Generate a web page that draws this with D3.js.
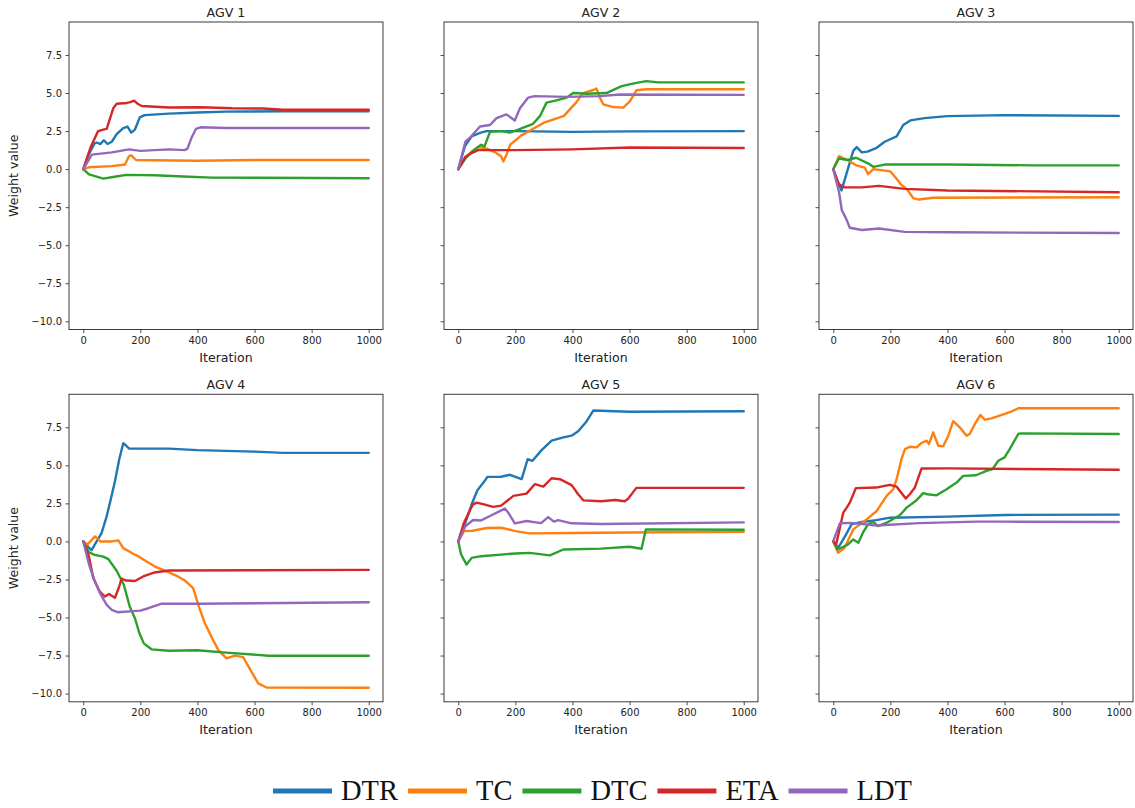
<!DOCTYPE html>
<html><head><meta charset="utf-8">
<script src="https://cdn.jsdelivr.net/npm/d3@7"></script>
<style>body{margin:0;background:#fff}svg{display:block}</style>
</head><body><svg id="c" width="1135" height="808"></svg>
<script>
// ---------- data ----------
const seriesNames = ["DTR","TC","DTC","ETA","LDT"];
const seriesColors = ["#1f77b4","#ff7f0e","#2ca02c","#d62728","#9467bd"];
const panelTitles = ["AGV 1","AGV 2","AGV 3","AGV 4","AGV 5","AGV 6"];
const xTicks = [0,200,400,600,800,1000];
const yTicks = [-10,-7.5,-5,-2.5,0,2.5,5,7.5];

// [iteration, weight]
const agv1_DTR = [[0,0],[20,1.0],[40,1.7],[47,1.75],[60,1.65],[72,1.9],[85,1.65],[100,1.8],[117,2.3],[140,2.7],[155,2.8],[168,2.4],[181,2.6],[198,3.4],[215,3.55],[300,3.65],[400,3.72],[500,3.78],[700,3.8],[1000,3.8]];
const agv1_TC  = [[0,0],[20,0.12],[100,0.2],[146,0.3],[160,0.85],[168,0.9],[185,0.6],[250,0.58],[400,0.55],[600,0.6],[1000,0.6]];
const agv1_DTC = [[0,0],[20,-0.35],[70,-0.62],[110,-0.5],[150,-0.38],[250,-0.4],[350,-0.48],[450,-0.56],[1000,-0.6]];
const agv1_ETA = [[0,0],[25,1.4],[52,2.5],[70,2.6],[82,2.65],[105,4.0],[117,4.3],[152,4.35],[165,4.4],[178,4.5],[190,4.3],[205,4.15],[300,4.05],[410,4.07],[520,4.0],[630,3.98],[700,3.9],[1000,3.9]];
const agv1_LDT = [[0,0],[30,0.95],[100,1.1],[160,1.3],[200,1.2],[300,1.3],[355,1.25],[365,1.35],[380,2.1],[395,2.65],[410,2.75],[500,2.7],[1000,2.7]];

const agv2_DTR = [[0,0],[23,1.5],[47,2.15],[76,2.38],[99,2.5],[200,2.5],[400,2.45],[600,2.48],[1000,2.5]];
const agv2_TC  = [[0,0],[25,0.8],[50,1.1],[70,1.45],[100,1.35],[130,1.1],[150,0.85],[158,0.5],[170,1.0],[182,1.6],[220,2.2],[262,2.65],[300,3.05],[340,3.3],[370,3.5],[414,4.4],[437,5.0],[473,5.2],[484,5.3],[496,4.7],[508,4.26],[543,4.08],[578,4.04],[601,4.45],[624,5.18],[659,5.25],[1000,5.25]];
const agv2_DTC = [[0,0],[25,0.7],[50,1.2],[80,1.6],[92,1.5],[111,2.45],[150,2.5],[180,2.4],[210,2.6],[262,2.98],[286,3.48],[309,4.37],[340,4.5],[380,4.7],[402,5.0],[450,4.95],[519,5.0],[572,5.45],[620,5.65],[659,5.78],[700,5.7],[1000,5.7]];
const agv2_ETA = [[0,0],[25,0.8],[40,1.0],[70,1.25],[200,1.25],[400,1.3],[600,1.42],[1000,1.39]];
const agv2_LDT = [[0,0],[25,1.8],[40,2.05],[76,2.8],[111,2.9],[134,3.35],[169,3.6],[198,3.2],[216,4.0],[245,4.7],[268,4.8],[379,4.75],[496,4.8],[566,4.9],[1000,4.88]];

const agv3_DTR = [[0,0],[15,-0.8],[29,-1.4],[70,1.2],[82,1.45],[100,1.1],[120,1.15],[152,1.4],[180,1.8],[222,2.15],[245,2.9],[270,3.2],[320,3.35],[400,3.48],[600,3.55],[1000,3.5]];
const agv3_TC  = [[0,0],[20,0.85],[50,0.6],[80,0.25],[110,0.1],[122,-0.33],[140,0],[200,-0.15],[216,-0.5],[239,-1.04],[257,-1.3],[280,-1.9],[300,-2.0],[350,-1.88],[1000,-1.85]];
const agv3_DTC = [[0,0],[20,0.7],[50,0.6],[80,0.75],[120,0.4],[140,0.15],[180,0.3],[400,0.3],[700,0.25],[1000,0.25]];
const agv3_ETA = [[0,0],[20,-1.0],[40,-1.2],[100,-1.2],[160,-1.1],[250,-1.3],[400,-1.4],[1000,-1.52]];
const agv3_LDT = [[0,0],[20,-1.5],[30,-2.7],[45,-3.25],[58,-3.85],[100,-4.0],[160,-3.9],[250,-4.12],[400,-4.15],[1000,-4.2]];

const agv4_DTR = [[0,0],[17,-0.35],[29,-0.57],[47,0],[64,0.55],[82,1.65],[93,2.5],[111,3.95],[126,5.4],[140,6.45],[150,6.3],[161,6.1],[300,6.1],[400,6.0],[600,5.9],[700,5.82],[1000,5.82]];
const agv4_TC  = [[0,0],[15,-0.2],[41,0.33],[60,0],[100,0],[123,0.07],[140,-0.44],[175,-0.81],[195,-1.0],[222,-1.32],[251,-1.65],[280,-1.87],[327,-2.26],[356,-2.57],[385,-3.07],[405,-4.28],[426,-5.38],[449,-6.26],[473,-7.14],[502,-7.69],[531,-7.5],[560,-7.6],[589,-8.56],[613,-9.33],[642,-9.6],[1000,-9.62]];
const agv4_DTC = [[0,0],[20,-0.72],[40,-0.88],[70,-1.0],[88,-1.16],[117,-1.93],[142,-2.85],[163,-4.3],[181,-5.05],[196,-6.0],[212,-6.7],[239,-7.09],[300,-7.18],[400,-7.15],[500,-7.31],[650,-7.51],[1000,-7.51]];
const agv4_ETA = [[0,0],[20,-1.0],[35,-2.4],[58,-3.3],[76,-3.62],[90,-3.45],[111,-3.7],[126,-2.96],[134,-2.45],[150,-2.57],[181,-2.6],[210,-2.3],[250,-2.04],[300,-1.91],[1000,-1.87]];
const agv4_LDT = [[0,0],[20,-1.5],[40,-2.6],[60,-3.45],[82,-4.17],[100,-4.5],[120,-4.65],[200,-4.55],[228,-4.39],[272,-4.1],[400,-4.1],[1000,-4.0]];

const agv5_DTR = [[0,0],[29,1.45],[47,2.44],[67,3.36],[93,3.98],[102,4.24],[150,4.25],[181,4.38],[222,4.09],[243,5.4],[260,5.3],[292,6.0],[327,6.62],[368,6.84],[397,6.95],[420,7.24],[447,7.83],[473,8.6],[600,8.52],[1000,8.55]];
const agv5_TC  = [[0,0],[20,0.68],[50,0.7],[100,0.88],[150,0.9],[200,0.68],[250,0.53],[400,0.55],[600,0.59],[1000,0.64]];
const agv5_DTC = [[0,0],[10,-0.86],[29,-1.52],[47,-1.08],[80,-0.97],[200,-0.79],[250,-0.75],[321,-0.92],[368,-0.53],[500,-0.47],[600,-0.35],[642,-0.48],[657,0.79],[1000,0.77]];
const agv5_ETA = [[0,0],[20,1.23],[50,2.4],[64,2.55],[90,2.44],[122,2.27],[150,2.35],[193,2.99],[239,3.14],[268,3.76],[298,3.6],[327,4.15],[356,4.09],[397,3.7],[420,3.1],[438,2.7],[500,2.64],[550,2.72],[583,2.64],[595,2.8],[624,3.52],[1000,3.52]];
const agv5_LDT = [[0,0],[25,1.0],[52,1.41],[80,1.38],[111,1.67],[163,2.16],[175,1.9],[198,1.19],[239,1.34],[290,1.2],[315,1.6],[335,1.3],[350,1.4],[397,1.19],[500,1.15],[1000,1.25]];

const agv6_DTR = [[0,0],[17,-0.42],[40,0.3],[64,1.12],[100,1.28],[150,1.4],[200,1.56],[400,1.63],[600,1.74],[1000,1.76]];
const agv6_TC  = [[0,0],[17,-0.75],[40,-0.4],[70,0.79],[117,1.45],[152,2.0],[187,2.99],[210,3.43],[222,4.09],[239,5.41],[251,6.07],[268,6.22],[292,6.18],[309,6.47],[327,6.62],[335,6.4],[350,7.17],[368,6.29],[385,6.25],[403,6.95],[420,7.9],[443,7.5],[467,6.95],[478,7.06],[496,7.72],[516,8.31],[531,8.0],[554,8.09],[583,8.27],[601,8.38],[618,8.49],[648,8.75],[1000,8.75]];
const agv6_DTC = [[0,0],[15,-0.53],[30,-0.4],[52,-0.2],[70,0.13],[88,-0.09],[105,0.62],[122,1.12],[140,1.28],[157,1.01],[187,1.23],[233,1.72],[257,2.22],[292,2.71],[315,3.17],[330,3.1],[362,3.03],[397,3.43],[432,3.87],[455,4.31],[500,4.35],[537,4.64],[558,4.75],[578,5.3],[600,5.52],[618,6.07],[648,7.06],[656,7.1],[1000,7.06]];
const agv6_ETA = [[0,0],[10,-0.2],[35,1.89],[47,2.22],[58,2.55],[79,3.5],[150,3.54],[198,3.72],[222,3.6],[254,2.82],[268,3.1],[286,3.55],[309,4.79],[400,4.8],[1000,4.71]];
const agv6_LDT = [[0,0],[23,1.19],[60,1.22],[152,1.05],[300,1.2],[500,1.3],[600,1.3],[1000,1.28]];

const panels = [
  [agv1_DTR,agv1_TC,agv1_DTC,agv1_ETA,agv1_LDT],
  [agv2_DTR,agv2_TC,agv2_DTC,agv2_ETA,agv2_LDT],
  [agv3_DTR,agv3_TC,agv3_DTC,agv3_ETA,agv3_LDT],
  [agv4_DTR,agv4_TC,agv4_DTC,agv4_ETA,agv4_LDT],
  [agv5_DTR,agv5_TC,agv5_DTC,agv5_ETA,agv5_LDT],
  [agv6_DTR,agv6_TC,agv6_DTC,agv6_ETA,agv6_LDT]
];

// ---------- layout ----------
const svg = d3.select("#c");
svg.append("rect").attr("width",1135).attr("height",808).attr("fill","#fff");
const colLeft = [69, 444, 819];
const rowTop = [22, 394.3];
const pw = 314, ph = 307.5;
const font = "DejaVu Sans, sans-serif";
const textColor = "#222";
const spineColor = "#3a3a3a";

// shared y domain with 5% padding (matplotlib-like)
let ymin = Infinity, ymax = -Infinity;
panels.forEach(p=>p.forEach(s=>s.forEach(d=>{ymin=Math.min(ymin,d[1]);ymax=Math.max(ymax,d[1]);})));
const pad = (ymax-ymin)*0.05;
const yDomain = [ymin-pad, ymax+pad];
const xDomain = [-50, 1050];

panels.forEach((series, idx) => {
  const r = Math.floor(idx/3), c = idx%3;
  const g = svg.append("g").attr("transform",`translate(${colLeft[c]},${rowTop[r]})`);
  const x = d3.scaleLinear().domain(xDomain).range([0,pw]);
  const y = d3.scaleLinear().domain(yDomain).range([ph,0]);

  g.append("defs").append("clipPath").attr("id","clip"+idx)
    .append("rect").attr("width",pw).attr("height",ph);

  const line = d3.line().x(d=>x(d[0])).y(d=>y(d[1]));
  const lg = g.append("g").attr("clip-path",`url(#clip${idx})`);
  series.forEach((s,i)=>{
    lg.append("path").datum(s).attr("d",line)
      .attr("fill","none").attr("stroke",seriesColors[i])
      .attr("stroke-width",2.4).attr("stroke-linejoin","round").attr("stroke-linecap","round");
  });

  // axes
  const xa = g.append("g").attr("transform",`translate(0,${ph})`)
    .call(d3.axisBottom(x).tickValues(xTicks).tickSize(3.5).tickPadding(3.5).tickFormat(d3.format("d")));
  const ya = g.append("g")
    .call(d3.axisLeft(y).tickValues(yTicks).tickSize(3.5).tickPadding(3.5)
      .tickFormat(c===0 ? (d=>d3.format(".1f")(d).replace("-","\u2212")) : (()=>"")));
  [xa,ya].forEach(a=>{
    a.select(".domain").remove();
    a.selectAll(".tick line").attr("stroke",spineColor).attr("stroke-width",0.9);
    a.selectAll(".tick text").attr("fill",textColor).style("font-family",font).style("font-size","10px");
  });

  // frame
  g.append("rect").attr("width",pw).attr("height",ph)
    .attr("fill","none").attr("stroke",spineColor).attr("stroke-width",1);

  // title
  g.append("text").attr("x",pw/2).attr("y",-5.3).attr("text-anchor","middle")
    .attr("fill",textColor).style("font-family",font).style("font-size","12.6px").text(panelTitles[idx]);
  // x label
  g.append("text").attr("x",pw/2).attr("y",ph+32).attr("text-anchor","middle")
    .attr("fill",textColor).style("font-family",font).style("font-size","12.6px").text("Iteration");
  if (c===0) {
    g.append("text").attr("transform",`translate(${17.6-colLeft[0]},${ph/2}) rotate(-90)`)
      .attr("text-anchor","middle").attr("fill",textColor)
      .style("font-family",font).style("font-size","12.6px").text("Weight value");
  }
});

// ---------- legend ----------
const leg = svg.append("g");
let lx = 273;
seriesNames.forEach((n,i)=>{
  leg.append("line").attr("x1",lx).attr("x2",lx+59).attr("y1",791).attr("y2",791)
    .attr("stroke",seriesColors[i]).attr("stroke-width",5);
  const t = leg.append("text").attr("x",lx+68).attr("y",800)
    .attr("fill","#111").style("font-family","Liberation Serif, Times New Roman, serif")
    .style("font-size","28.5px").text(n);
  lx = lx + 68 + t.node().getComputedTextLength() + 10;
});
</script></body></html>
